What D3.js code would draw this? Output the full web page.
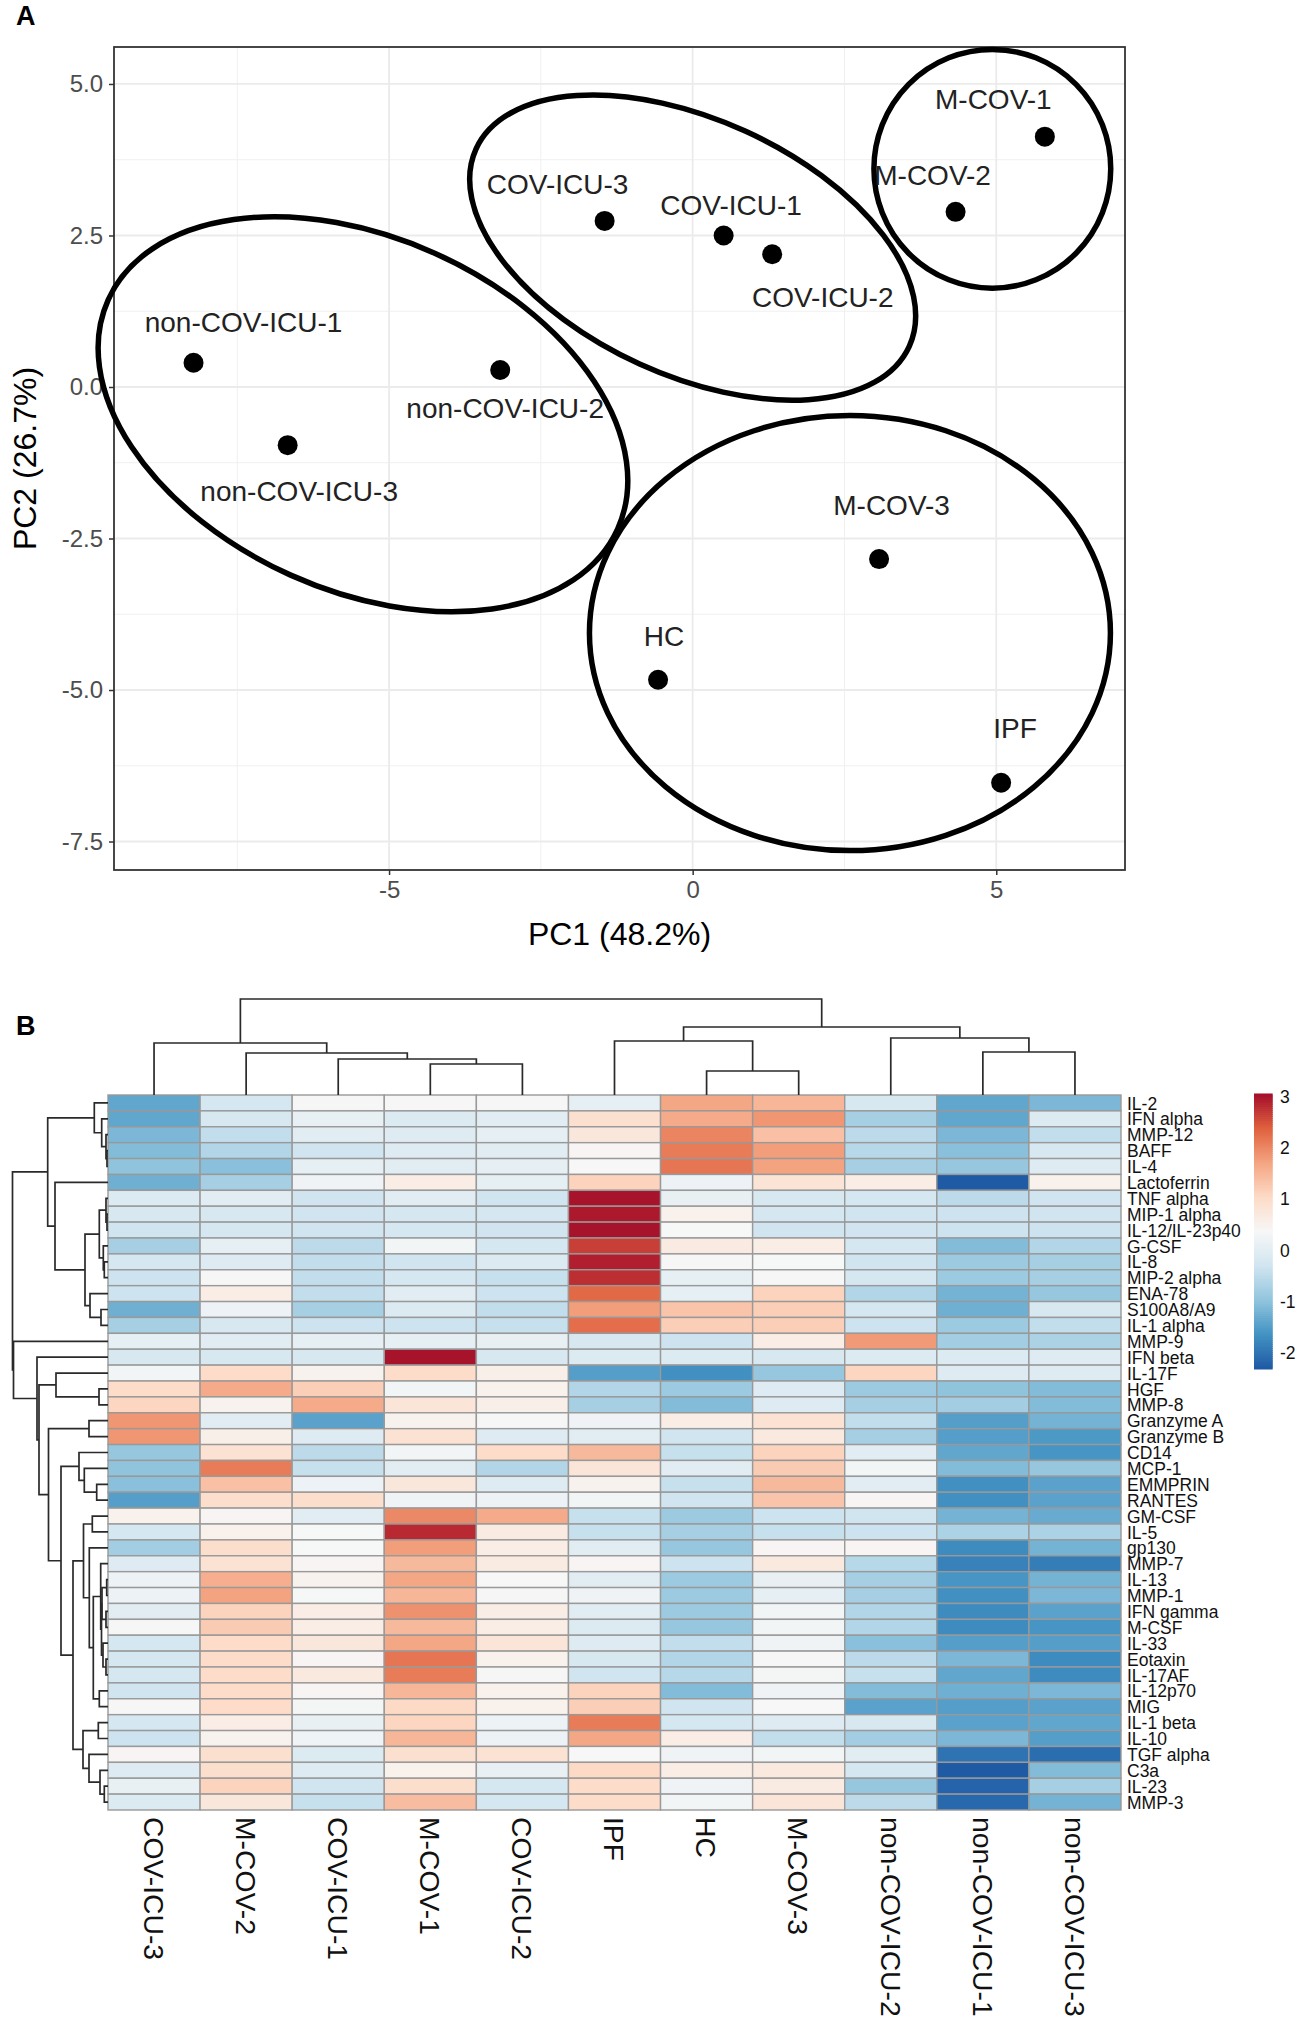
<!DOCTYPE html>
<html>
<head>
<meta charset="utf-8">
<script src="https://cdn.jsdelivr.net/npm/d3@7"></script>
<style>
  body { margin: 0; background: #fff; }
  svg { display: block; }
  text { font-family: "Liberation Sans", Arial, sans-serif; }
</style>
</head>
<body>
<svg id="fig" width="1299" height="2027"></svg>
<script>
// panel A: samples on the first two components
var samples = ["M-COV-1", "M-COV-2", "COV-ICU-3", "COV-ICU-1", "COV-ICU-2", "non-COV-ICU-1", "non-COV-ICU-2", "non-COV-ICU-3", "M-COV-3", "HC", "IPF"];
var pc1 = [5.80, 4.33, -1.45, 0.51, 1.31, -8.22, -3.17, -6.67, 3.07, -0.57, 5.08];
var pc2 = [4.13, 2.89, 2.74, 2.50, 2.19, 0.40, 0.28, -0.96, -2.84, -4.83, -6.53];
var xTicks = [-5, 0, 5];
var xMinor = [-7.5, -2.5, 2.5];
var yTicks = [5, 2.5, 0, -2.5, -5, -7.5];
var yMinor = [3.75, 1.25, -1.25, -3.75, -6.25];

// group outlines: centre and half axes in PC units, tilt in degrees
var groupCx = [-5.43, 0, 4.935, 2.59];
var groupCy = [-0.45, 2.30, 3.60, -4.06];
var groupRx = [4.60, 3.92, 1.95, 4.29];
var groupRy = [2.91, 2.11, 1.97, 3.59];
var groupTilt = [24.2, 24.5, 0, 0];

// panel B: heatmap
var columns = ["COV-ICU-3", "M-COV-2", "COV-ICU-1", "M-COV-1", "COV-ICU-2", "IPF", "HC", "M-COV-3", "non-COV-ICU-2", "non-COV-ICU-1", "non-COV-ICU-3"];
var rows = ["IL-2", "IFN alpha", "MMP-12", "BAFF", "IL-4", "Lactoferrin", "TNF alpha", "MIP-1 alpha", "IL-12/IL-23p40", "G-CSF", "IL-8", "MIP-2 alpha", "ENA-78", "S100A8/A9", "IL-1 alpha", "MMP-9", "IFN beta", "IL-17F", "HGF", "MMP-8", "Granzyme A", "Granzyme B", "CD14", "MCP-1", "EMMPRIN", "RANTES", "GM-CSF", "IL-5", "gp130", "MMP-7", "IL-13", "MMP-1", "IFN gamma", "M-CSF", "IL-33", "Eotaxin", "IL-17AF", "IL-12p70", "MIG", "IL-1 beta", "IL-10", "TGF alpha", "C3a", "IL-23", "MMP-3"];
var zscores = [
	[-1.39, -0.24, 0.34, 0.34, 0.38, 0.05, 1.67, 1.49, -0.18, -1.39, -1.16],
	[-1.39, -0.18, 0.1, -0.12, -0.01, 0.91, 1.62, 1.84, -0.76, -1.39, -0.12],
	[-1.16, -0.47, -0.01, -0.07, 0.05, 0.73, 2.02, 1.36, -0.53, -1.16, -0.47],
	[-1.1, -0.64, -0.3, -0.07, -0.01, 0.42, 2.11, 1.76, -0.58, -1.04, -0.18],
	[-0.99, -1.04, 0.05, -0.01, 0.05, 0.36, 2.16, 1.71, -0.76, -0.93, -0.07],
	[-1.27, -0.76, 0.22, 0.6, 0.05, 1.13, 0.16, 0.82, 0.6, -2.34, 0.51],
	[-0.12, -0.01, -0.3, -0.01, -0.3, 3.0, 0.1, -0.18, -0.24, -0.53, -0.3],
	[-0.18, -0.18, -0.3, -0.24, -0.24, 2.95, 0.51, -0.24, -0.3, -0.35, -0.3],
	[-0.3, -0.24, -0.3, -0.24, -0.3, 3.0, 0.35, -0.3, -0.3, -0.35, -0.35],
	[-0.76, 0.05, -0.53, 0.28, -0.24, 2.64, 0.65, 0.6, -0.24, -1.1, -0.64],
	[-0.24, -0.07, -0.47, -0.3, -0.12, 2.91, 0.38, 0.35, -0.3, -0.87, -0.76],
	[-0.35, 0.38, -0.47, -0.24, -0.41, 2.78, 0.05, 0.38, -0.24, -0.87, -0.76],
	[-0.35, 0.6, -0.47, -0.01, -0.35, 2.29, 0.05, 1.13, -0.64, -1.22, -0.93],
	[-1.27, 0.16, -0.76, -0.12, -0.47, 1.76, 1.31, 1.18, -0.24, -1.27, -0.18],
	[-0.76, -0.18, -0.35, -0.35, -0.41, 2.24, 1.18, 1.18, -0.35, -0.87, -0.47],
	[0.05, -0.01, 0.05, 0.05, 0.1, -0.18, -0.35, 0.6, 1.8, -0.81, -0.7],
	[-0.18, -0.18, -0.18, 3.0, -0.18, -0.12, -0.12, -0.18, -0.12, -0.12, -0.07],
	[0.28, 1.0, 0.47, 1.0, 0.56, -1.5, -1.68, -0.93, 1.09, -0.07, -0.07],
	[1.0, 1.62, 1.18, 0.28, 0.51, -0.64, -0.87, -0.07, -0.87, -0.99, -1.1],
	[1.09, 0.47, 1.62, 0.78, 0.56, -0.76, -1.1, -0.07, -0.76, -0.81, -1.1],
	[1.84, -0.01, -1.45, 0.47, 0.34, 0.22, 0.6, 0.87, -0.47, -1.5, -1.22],
	[1.84, 0.56, -0.07, 0.87, -0.07, -0.01, -0.3, 0.69, -0.76, -1.5, -1.56],
	[-0.93, 0.87, -0.53, 0.28, 1.0, 1.45, -0.41, 1.13, -0.01, -1.39, -1.62],
	[-0.99, 2.11, -0.41, -0.01, -0.64, 0.78, -0.01, 1.22, 0.28, -1.1, -0.93],
	[-1.04, 1.36, 0.16, 0.73, -0.07, 0.47, -0.41, 1.45, -0.01, -1.68, -1.45],
	[-1.5, 0.96, 0.96, 0.22, 0.16, 0.28, -0.3, 1.31, 0.42, -1.68, -1.45],
	[0.51, 0.42, -0.01, 1.98, 1.62, -0.41, -0.87, -0.35, -0.3, -1.22, -1.33],
	[-0.24, 0.51, 0.35, 2.82, 0.65, -0.41, -0.76, -0.41, -0.35, -0.7, -0.7],
	[-0.81, 0.96, 0.35, 1.76, 0.6, -0.01, -0.93, 0.42, 0.42, -1.73, -1.22],
	[-0.07, 0.87, 0.42, 1.45, 0.65, 0.42, -0.35, 0.69, -0.58, -1.85, -1.9],
	[0.16, 1.58, 0.47, 1.67, 0.36, -0.01, -0.87, 0.1, -0.76, -1.62, -1.22],
	[0.16, 1.71, 0.35, 1.49, 0.38, 0.22, -0.87, 0.05, -0.76, -1.68, -1.16],
	[-0.01, 1.13, 0.6, 1.89, 0.6, -0.01, -0.87, 0.28, -0.64, -1.73, -1.45],
	[0.38, 1.22, 0.6, 1.45, 0.6, -0.12, -0.93, 0.28, -0.64, -1.73, -1.62],
	[-0.24, 1.0, 0.73, 1.67, 0.78, -0.07, -0.47, 0.22, -1.04, -1.5, -1.5],
	[-0.24, 1.0, 0.42, 2.16, 0.51, -0.18, -0.64, 0.38, -0.53, -1.16, -1.73],
	[-0.24, 1.0, 0.69, 2.11, 0.38, -0.3, -0.58, 0.31, -0.41, -1.39, -1.73],
	[-0.3, 1.0, 0.42, 1.49, 0.51, 1.13, -1.1, 0.22, -1.1, -1.27, -1.16],
	[0.38, 1.0, 0.31, 1.04, 0.51, 1.18, -0.3, 0.36, -1.45, -1.5, -1.45],
	[-0.24, 0.6, 0.1, 1.09, 0.16, 2.11, -0.24, -0.07, -0.18, -1.45, -1.39],
	[-0.35, 0.47, 0.22, 1.49, 0.16, 1.67, 0.6, -0.47, -0.81, -1.16, -1.5],
	[0.42, 0.91, -0.12, 0.91, 0.87, 0.36, 0.22, 0.28, -0.01, -2.02, -2.08],
	[-0.07, 0.96, -0.07, 0.51, 0.1, 1.04, 0.6, 0.69, -0.24, -2.34, -1.1],
	[0.1, 1.13, -0.3, 0.96, -0.24, 1.0, 0.22, 0.65, -0.93, -2.2, -0.76],
	[-0.12, 0.73, -0.41, 1.4, -0.24, 1.0, 0.28, 0.78, -0.53, -2.14, -1.22]
];
var legendTicks = [3, 2, 1, 0, -1, -2];
var colorMin = -2.31, colorMax = 3.03;
var colorStops = ["#1f5aa5", "#4393c3", "#92c5de", "#d1e5f0", "#f7f7f7", "#fddbc7", "#f4a582", "#e0623f", "#a50f2b"];

// dendrograms: [merge height, left, right], a plain number is a leaf index
var colTree = [96, [52, 0, [42, 1, [36, 2, [31, 3, 4]]]], [68, [54, 5, [24, 6, 7]], [57, 8, [43, 9, 10]]]];
var treeTop = [60.3,
	[13.7, 0, [6.3, 1, [2, 2, [1, 3, 4]]]],
	[53, 5, [23, [8.7, [2, 6, [1, 7, 8]], [4.7, 9, [3.7, 10, 11]]], [18, 12, [7, 13, 14]]]]];
var treeS = [7.3, 29, [6.5, [6, [1.3, 30, 31], [2, 32, 33]], [5, 34, [2, 35, 36]]]];
var treeM = [24.5, [15.7, 26, 27], [18.7, 28, [14.7, treeS, [8.7, 37, 38]]]];
var treeN = [25, [9.7, 39, 40], [19, 41, [8, 42, [3.7, 43, 44]]]];
var treeH = [47, [29, 22, [23.7, 23, [11.3, 24, 25]]], [35, treeM, treeN]];
var treeBottom = [94.5, 15, [71, 16, [69, [52, 17, [9, 18, 19]], [59.5, [19, 20, 21], treeH]]]];
var rowTree = [95.5, treeTop, treeBottom];

var svg = d3.select("#fig");

svg.append("rect").attr("width", 1299).attr("height", 2027).attr("fill", "#fff");

// ---- panel A ----
var panel = { left: 114, right: 1125, top: 47, bottom: 870 };

var x = d3.scaleLinear().domain([-9.53, 7.12]).range([panel.left, panel.right]);
var y = d3.scaleLinear().domain([-7.97, 5.61]).range([panel.bottom, panel.top]);

var grid = svg.append("g");
grid.selectAll(".vminor").data(xMinor).enter().append("line")
	.attr("x1", x).attr("x2", x).attr("y1", panel.top).attr("y2", panel.bottom)
	.attr("stroke", "#f0f0f0").attr("stroke-width", 1);
grid.selectAll(".hminor").data(yMinor).enter().append("line")
	.attr("y1", y).attr("y2", y).attr("x1", panel.left).attr("x2", panel.right)
	.attr("stroke", "#f0f0f0").attr("stroke-width", 1);
grid.selectAll(".vmajor").data(xTicks).enter().append("line")
	.attr("x1", x).attr("x2", x).attr("y1", panel.top).attr("y2", panel.bottom)
	.attr("stroke", "#ebebeb").attr("stroke-width", 1.8);
grid.selectAll(".hmajor").data(yTicks).enter().append("line")
	.attr("y1", y).attr("y2", y).attr("x1", panel.left).attr("x2", panel.right)
	.attr("stroke", "#ebebeb").attr("stroke-width", 1.8);

svg.append("g")
	.attr("transform", "translate(0," + panel.bottom + ")")
	.call(d3.axisBottom(x).tickValues(xTicks).tickFormat(function(d) { return String(d); }).tickSize(5).tickPadding(6))
	.call(styleAxis);
svg.append("g")
	.attr("transform", "translate(" + panel.left + ",0)")
	.call(d3.axisLeft(y).tickValues(yTicks).tickFormat(function(d) { return d.toFixed(1); }).tickSize(5).tickPadding(6))
	.call(styleAxis);

function styleAxis(g) {
	g.select(".domain").remove();
	g.selectAll(".tick line").attr("stroke", "#333").attr("stroke-width", 1.5);
	g.selectAll("text").attr("fill", "#4d4d4d").style("font-size", "24px");
}

svg.append("rect")
	.attr("x", panel.left).attr("y", panel.top)
	.attr("width", panel.right - panel.left).attr("height", panel.bottom - panel.top)
	.attr("fill", "none").attr("stroke", "#333").attr("stroke-width", 1.8);

svg.selectAll(".group").data(groupCx).enter().append("ellipse")
	.attr("class", "group")
	.attr("rx", function(d, i) { return x(groupRx[i]) - x(0); })
	.attr("ry", function(d, i) { return y(0) - y(groupRy[i]); })
	.attr("transform", function(d, i) {
		return "translate(" + x(d) + "," + y(groupCy[i]) + ") rotate(" + groupTilt[i] + ")";
	})
	.attr("fill", "none").attr("stroke", "#000").attr("stroke-width", 5.5);

svg.selectAll(".pt").data(samples).enter().append("circle")
	.attr("class", "pt")
	.attr("cx", function(d, i) { return x(pc1[i]); })
	.attr("cy", function(d, i) { return y(pc2[i]); })
	.attr("r", 10).attr("fill", "#000");

// hand placed like ggrepel left them, in px from the point
var labelDx = [-51.5, -23, -47, 7.5, 50.5, 50, 5, 11.5, 12.5, 6, 14];
var labelDy = [-37.5, -37, -37, -31, 43, -41, 38, 46, -54.5, -44, -55];

svg.selectAll(".lab").data(samples).enter().append("text")
	.attr("class", "lab")
	.attr("x", function(d, i) { return x(pc1[i]) + labelDx[i]; })
	.attr("y", function(d, i) { return y(pc2[i]) + labelDy[i]; })
	.attr("dy", "0.36em")
	.attr("text-anchor", "middle")
	.style("font-size", "28px")
	.attr("fill", "#222")
	.text(function(d) { return d; });

svg.append("text")
	.attr("x", (panel.left + panel.right) / 2).attr("y", 945)
	.attr("text-anchor", "middle").style("font-size", "32px")
	.text("PC1 (48.2%)");
svg.append("text")
	.attr("transform", "translate(36," + (panel.top + panel.bottom) / 2 + ") rotate(-90)")
	.attr("text-anchor", "middle").style("font-size", "32px")
	.text("PC2 (26.7%)");

svg.append("text").attr("x", 16).attr("y", 25)
	.style("font-size", "27px").style("font-weight", "bold").text("A");
svg.append("text").attr("x", 16).attr("y", 1035)
	.style("font-size", "27px").style("font-weight", "bold").text("B");

// ---- panel B ----
var hmLeft = 108, hmRight = 1121, hmTop = 1095, hmBottom = 1810;

var cx = d3.scaleBand().domain(d3.range(columns.length)).range([hmLeft, hmRight]);
var cy = d3.scaleBand().domain(d3.range(rows.length)).range([hmTop, hmBottom]);

var colorDomain = d3.range(colorStops.length).map(function(i) {
	return colorMin + i * (colorMax - colorMin) / (colorStops.length - 1);
});
var color = d3.scaleLinear().domain(colorDomain).range(colorStops).clamp(true);

var rowG = svg.selectAll(".hmrow").data(zscores).enter().append("g")
	.attr("class", "hmrow")
	.attr("transform", function(d, i) { return "translate(0," + cy(i) + ")"; });

rowG.selectAll("rect").data(function(d) { return d; }).enter().append("rect")
	.attr("x", function(d, i) { return cx(i); })
	.attr("width", cx.bandwidth())
	.attr("height", cy.bandwidth())
	.attr("fill", function(d) { return color(d); })
	.attr("stroke", "#999")
	.attr("stroke-width", 1.4);

svg.selectAll(".rowlab").data(rows).enter().append("text")
	.attr("class", "rowlab")
	.attr("x", hmRight + 6)
	.attr("y", function(d, i) { return cy(i) + cy.bandwidth() / 2; })
	.attr("dy", "0.38em")
	.style("font-size", "17.5px")
	.attr("fill", "#111")
	.text(function(d) { return d; });

svg.selectAll(".collab").data(columns).enter().append("text")
	.attr("class", "collab")
	.attr("transform", function(d, i) {
		return "translate(" + (cx(i) + cx.bandwidth() / 2) + "," + (hmBottom + 7) + ") rotate(90)";
	})
	.attr("dy", "0.36em")
	.style("font-size", "28.3px")
	.attr("fill", "#111")
	.text(function(d) { return d; });

// dendrograms
var colH = d3.scaleLinear().domain([0, 96]).range([hmTop, 999]);
var rowH = d3.scaleLinear().domain([0, 95.5]).range([hmLeft, 12.5]);

function isLeaf(n) { return typeof n === "number"; }

// returns the centre of a node along the leaf axis and collects its bracket
function walk(node, leafPos, heightPos, out) {
	if (isLeaf(node)) return { pos: leafPos(node), h: heightPos(0) };
	var a = walk(node[1], leafPos, heightPos, out);
	var b = walk(node[2], leafPos, heightPos, out);
	var h = heightPos(node[0]);
	out.push({ a: a, b: b, h: h });
	return { pos: (a.pos + b.pos) / 2, h: h };
}

var colBrackets = [];
walk(colTree, function(i) { return cx(i) + cx.bandwidth() / 2; }, colH, colBrackets);
var rowBrackets = [];
walk(rowTree, function(i) { return cy(i) + cy.bandwidth() / 2; }, rowH, rowBrackets);

svg.append("g").selectAll("path").data(colBrackets).enter().append("path")
	.attr("d", function(d) {
		return "M" + d.a.pos + "," + d.a.h + "V" + d.h + "H" + d.b.pos + "V" + d.b.h;
	})
	.attr("fill", "none").attr("stroke", "#2a2a2a").attr("stroke-width", 1.7);

svg.append("g").selectAll("path").data(rowBrackets).enter().append("path")
	.attr("d", function(d) {
		return "M" + d.a.h + "," + d.a.pos + "H" + d.h + "V" + d.b.pos + "H" + d.b.h;
	})
	.attr("fill", "none").attr("stroke", "#2a2a2a").attr("stroke-width", 1.7);

// legend
var ly = d3.scaleLinear().domain([colorMin, colorMax]).range([1369, 1095]);
var legendSteps = d3.range(colorMin, colorMax, 0.04);

svg.append("g").selectAll("rect").data(legendSteps).enter().append("rect")
	.attr("x", 1254).attr("width", 18.7)
	.attr("y", function(d) { return ly(d + 0.04) - 0.5; })
	.attr("height", ly(0) - ly(0.04) + 1)
	.attr("fill", function(d) { return color(d); });

svg.append("g").selectAll("text").data(legendTicks).enter().append("text")
	.attr("x", 1280)
	.attr("y", ly)
	.attr("dy", "0.36em")
	.style("font-size", "17.5px")
	.attr("fill", "#111")
	.text(function(d) { return String(d); });
</script>
</body>
</html>
